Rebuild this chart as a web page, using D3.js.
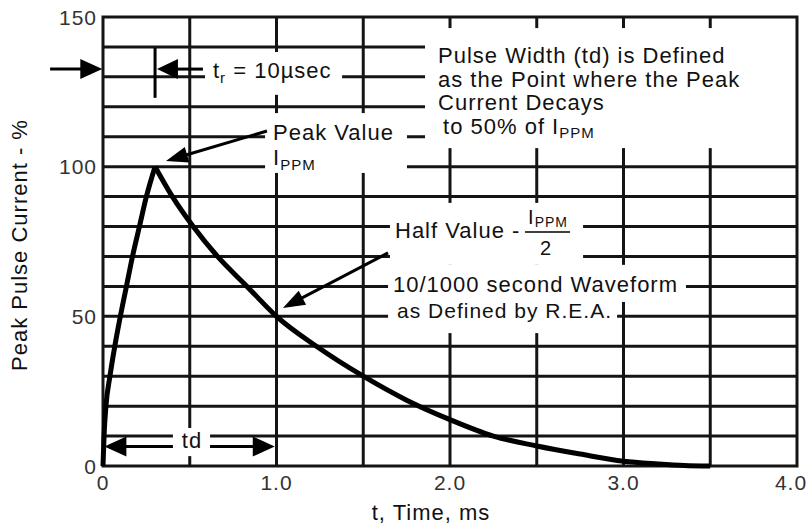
<!DOCTYPE html>
<html>
<head>
<meta charset="utf-8">
<script src="https://cdn.jsdelivr.net/npm/d3@7"></script>
<style>
  html, body { margin: 0; padding: 0; background: #ffffff; }
  svg { display: block; }
  text { font-family: "Liberation Sans", Arial, Helvetica, sans-serif; fill: #111; letter-spacing: 1px; }
</style>
</head>
<body>
<svg id="chart" width="809" height="528"></svg>
<script>
// ---- data ----
const waveTime    = [0, 0.006, 0.017, 0.04, 0.068, 0.10, 0.135, 0.17, 0.21, 0.25, 0.30,
                     0.40, 0.52, 0.66, 0.83, 1.00, 1.23, 1.50, 1.75, 2.00, 2.25, 2.50, 2.75, 3.00, 3.20, 3.35, 3.50];
const waveCurrent = [0, 10, 20, 30, 40, 50, 60, 70, 80, 90, 100,
                     90, 80, 70, 60, 50, 40, 30, 22, 15.5, 10, 6.7, 4, 1.6, 0.7, 0.2, 0];
const xTickValues = [0, 1, 2, 3, 4];
const xTickLabels = ["0", "1.0", "2.0", "3.0", "4.0"];
const yTickValues = [0, 50, 100, 150];
const yTickLabels = ["0", "50", "100", "150"];
const xGridValues = [0.5, 1.0, 1.5, 2.0, 2.5, 3.0, 3.5];
const yGridValues = [10, 20, 30, 40, 50, 60, 70, 80, 90, 100, 110, 120, 130, 140];
const xAxisTitle = "t, Time, ms";
const yAxisTitle = "Peak Pulse Current - %";

// ---- layout ----
const svg = d3.select("#chart");
const x = d3.scaleLinear().domain([0, 4]).range([103, 797]);
const y = d3.scaleLinear().domain([0, 150]).range([466, 17]);
const ink = "#141414";

// grid
const g = svg.append("g");
g.selectAll("line.h").data(yGridValues).join("line")
  .attr("x1", x(0)).attr("x2", x(4)).attr("y1", d => y(d)).attr("y2", d => y(d))
  .attr("stroke", ink).attr("stroke-width", 3);
g.selectAll("line.v").data(xGridValues).join("line")
  .attr("y1", y(0)).attr("y2", y(150)).attr("x1", d => x(d)).attr("x2", d => x(d))
  .attr("stroke", ink).attr("stroke-width", 3);

// label boxes that mask the grid (data units: [t0, t1, v0, v1])
const boxes = [
  [0.588, 1.378, 124.0, 138.3],   // t_r label
  [0.934, 1.752, 97.9, 117.9],    // Peak value
  [1.856, 4.0, 106.2, 146.3],     // Pulse width note
  [1.654, 2.767, 67.2, 87.9],     // Half value
  [1.643, 3.36, 54.8, 67.2],      // 10/1000 line
  [1.643, 2.963, 44.4, 54.8],     // as defined line
  [0.403, 0.617, 3.3, 12.7]       // td
];
svg.append("g").selectAll("rect").data(boxes).join("rect")
  .attr("x", d => x(d[0])).attr("width", d => x(d[1]) - x(d[0]))
  .attr("y", d => y(d[3])).attr("height", d => y(d[2]) - y(d[3]))
  .attr("fill", "#ffffff");

// frame
svg.append("rect").attr("x", x(0)).attr("y", y(150))
  .attr("width", x(4) - x(0)).attr("height", y(0) - y(150))
  .attr("fill", "none").attr("stroke", ink).attr("stroke-width", 3);

// tick labels
svg.append("g").selectAll("text").data(yTickValues).join("text")
  .attr("x", 97).attr("y", d => y(d)).attr("dy", "0.36em")
  .attr("text-anchor", "end").style("font-size", "21px").style("fill", "#333")
  .text((d, i) => yTickLabels[i]);
svg.append("g").selectAll("text").data(xTickValues).join("text")
  .attr("x", d => Math.min(x(d), 791)).attr("y", 490)
  .attr("text-anchor", "middle").style("font-size", "21px").style("fill", "#333")
  .text((d, i) => xTickLabels[i]);

// axis titles
svg.append("text").attr("x", 431).attr("y", 520).attr("text-anchor", "middle")
  .style("font-size", "22px").text(xAxisTitle);
svg.append("text").attr("transform", "translate(27,245) rotate(-90)")
  .attr("text-anchor", "middle").style("font-size", "22px").text(yAxisTitle);

// waveform
const pts = waveTime.map((t, i) => [t, waveCurrent[i]]);
const peakIdx = waveCurrent.indexOf(d3.max(waveCurrent));
const line = d3.line().x(d => x(d[0])).y(d => y(d[1])).curve(d3.curveMonotoneX);
[pts.slice(0, peakIdx + 1), pts.slice(peakIdx)].forEach(seg => {
  svg.append("path").attr("d", line(seg)).attr("fill", "none")
    .attr("stroke", "#000").attr("stroke-width", 5).attr("stroke-linejoin", "miter");
});

// ---- annotations ----
const ann = svg.append("g");
function arrow(t0, v0, t1, v1, len, hw) {
  const x0 = x(t0), y0 = y(v0), x1 = x(t1), y1 = y(v1);
  const dx = x1 - x0, dy = y1 - y0, L = Math.hypot(dx, dy);
  const ux = dx / L, uy = dy / L;
  const bx = x1 - ux * len, by = y1 - uy * len;
  ann.append("line").attr("x1", x0).attr("y1", y0).attr("x2", bx + ux * 2).attr("y2", by + uy * 2)
    .attr("stroke", "#000").attr("stroke-width", 3);
  ann.append("path")
    .attr("d", `M${x1},${y1}L${bx - uy * hw},${by + ux * hw}L${bx + uy * hw},${by - ux * hw}Z`)
    .attr("fill", "#000");
}
function seg(t0, v0, t1, v1, w) {
  ann.append("line").attr("x1", x(t0)).attr("y1", y(v0)).attr("x2", x(t1)).attr("y2", y(v1))
    .attr("stroke", "#000").attr("stroke-width", w || 3);
}
// rise time marker
arrow(-0.305, 132.6, -0.004, 132.6, 22, 10);
arrow(0.576, 132.6, 0.311, 132.6, 21, 10);
seg(0.30, 139.7, 0.30, 123.0, 3);
// peak value arrow
arrow(0.945, 111.9, 0.363, 101.9, 22, 8);
// waveform arrow
arrow(1.643, 71.2, 1.037, 52.8, 22, 8);
// td double arrow
arrow(0.403, 6.5, 0.008, 6.5, 22, 10);
arrow(0.617, 6.5, 0.99, 6.5, 22, 10);

// texts
function txt(t, v, size, anchor) {
  return ann.append("text").attr("x", x(t)).attr("y", y(v))
    .attr("text-anchor", anchor || "start").style("font-size", size + "px");
}
const tr = txt(0.634, 129.6, 22);
tr.append("tspan").text("t");
tr.append("tspan").attr("dy", 5).style("font-size", "15px").text("r");
tr.append("tspan").attr("dy", -5).text(" = 10µsec");

txt(0.98, 108.9, 22).text("Peak Value");
const ip = txt(0.98, 100.6, 22);
ip.append("tspan").text("I");
ip.append("tspan").attr("dy", 5).style("font-size", "15px").text("PPM");

txt(1.931, 134.6, 22).text("Pulse Width (td) is Defined");
txt(1.931, 126.6, 22).text("as the Point where the Peak");
txt(1.931, 118.9, 22).text("Current Decays");
const l4 = txt(1.96, 110.9, 22);
l4.append("tspan").text("to 50% of I");
l4.append("tspan").attr("dy", 4).style("font-size", "15px").text("PPM");

txt(1.683, 76.2, 22).text("Half Value -");
const num = txt(2.45, 80.9, 20);
num.append("tspan").text("I");
num.append("tspan").attr("dy", 3).style("font-size", "14px").text("PPM");
seg(2.432, 78.2, 2.692, 78.2, 1.5);
txt(2.553, 70.5, 20, "middle").text("2");

txt(1.671, 58.1, 22).text("10/1000 second Waveform");
txt(1.695, 49.4, 21).text("as Defined by R.E.A.");

txt(0.513, 6.0, 22, "middle").text("td");
</script>
</body>
</html>
